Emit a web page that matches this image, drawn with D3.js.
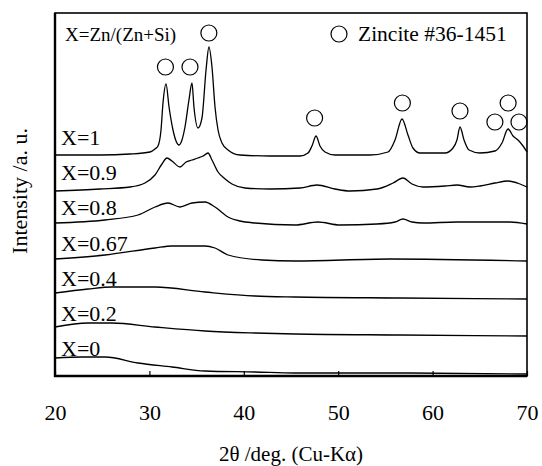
<!DOCTYPE html>
<html>
<head>
<meta charset="utf-8">
<script src="https://cdn.jsdelivr.net/npm/d3@7"></script>
<style>
  body { margin: 0; background: #fff; }
  svg text { font-family: "Liberation Serif", "Tinos", "Times New Roman", "DejaVu Serif", serif; fill: #000; }
</style>
</head>
<body>
<div id="chart"></div>
<script>
//////////////////////////////////////////////////////////////////////////////
// Data (2theta in deg, intensity in a.u. incl. offset)

var theta_1 = [20.00, 24.77, 27.94, 30.06, 30.59, 30.91, 31.23, 31.44, 31.76, 32.08, 32.50, 32.82, 33.14, 33.45, 33.77, 34.19, 34.51, 34.72, 35.15, 35.57, 36.00, 36.31, 36.63, 36.95, 37.27, 37.69, 38.33, 39.60, 42.78, 45.95, 46.80, 47.22, 47.65, 48.07, 48.60, 49.66, 53.37, 55.28, 56.02, 56.76, 57.39, 57.92, 58.67, 61.31, 62.16, 62.58, 62.90, 63.33, 63.86, 65.02, 66.61, 67.35, 67.99, 68.52, 69.05, 69.58, 70.00];
var int_1   = [221, 221, 222, 224, 227, 230, 246, 273, 292, 269, 246, 235, 231, 236, 249, 276, 293, 269, 248, 258, 306, 329, 309, 269, 246, 233, 226, 221, 220, 220, 223, 230, 240, 230, 224, 221, 221, 224, 236, 257, 241, 228, 223, 223, 228, 236, 249, 236, 226, 223, 225, 233, 247, 240, 236, 230, 224];

var theta_09 = [20.00, 24.77, 27.94, 29.53, 30.59, 31.33, 31.86, 32.39, 33.24, 33.88, 34.51, 35.15, 35.68, 36.21, 36.63, 37.27, 37.90, 38.75, 40.13, 42.78, 45.95, 47.75, 49.66, 51.25, 54.11, 55.81, 56.86, 57.82, 58.98, 61.31, 62.58, 63.96, 65.02, 66.61, 67.99, 69.26, 70.00];
var int_09   = [185, 187, 189, 193, 201, 212, 218, 215, 209, 214, 216, 218, 220, 223, 216, 204, 198, 192, 188, 187, 188, 191, 187, 185, 187, 193, 198, 192, 189, 190, 191, 189, 190, 193, 195, 192, 189];

var theta_08 = [20.00, 25.30, 28.79, 30.59, 31.97, 33.24, 34.51, 35.89, 36.95, 38.33, 39.60, 41.19, 45.42, 47.86, 50.19, 54.11, 56.02, 56.86, 57.82, 58.98, 62.58, 66.08, 68.20, 70.00];
var int_08   = [153, 156, 161, 169, 173, 169, 173, 174, 169, 159, 155, 153, 151, 154, 151, 152, 154, 157, 154, 153, 154, 154, 154, 152];

var theta_067 = [20.00, 25.30, 30.59, 32.39, 35.89, 36.95, 38.33, 41.93, 45.42, 55.49, 70.00];
var int_067   = [117, 121, 128, 130, 130, 128, 121, 116, 115, 117, 115];

var theta_04 = [20.00, 23.50, 26.04, 30.59, 35.89, 41.19, 45.42, 56.55, 70.00];
var int_04   = [83, 87, 89, 89, 84, 80, 79, 78, 77];

var theta_02 = [20.00, 23.50, 26.04, 30.59, 35.89, 41.19, 45.42, 56.55, 70.00];
var int_02   = [49, 53, 53, 49, 45, 43, 42, 41, 40];

var theta_0 = [20.00, 22.86, 25.30, 28.79, 32.39, 35.89, 41.19, 45.42, 56.55, 70.00];
var int_0   = [18, 19, 19, 13, 9, 5, 4, 3, 3, 2];

var seriesLabels = ["X=1", "X=0.9", "X=0.8", "X=0.67", "X=0.4", "X=0.2", "X=0"];

// zincite reflections marked with circles
var zinciteTheta = [31.7, 34.3, 36.3, 47.5, 56.8, 62.9, 66.6, 68.0, 69.15];
var zinciteLevel = [309, 309, 343, 258, 273, 265, 254, 273, 254];

var xTicks = [20, 30, 40, 50, 60, 70];

//////////////////////////////////////////////////////////////////////////////
// Layout and scales

var width = 542, height = 466;
var margin = {top: 13, right: 15, bottom: 90, left: 55};

var xScale = d3.scaleLinear().domain([20, 70]).range([margin.left, width - margin.right]);
var yScale = d3.scaleLinear().domain([0, 363]).range([height - margin.bottom, margin.top]);
var labelScale = d3.scalePoint().domain(seriesLabels).range([145, 356]);

var series = [
    {theta: theta_1,   I: int_1},
    {theta: theta_09,  I: int_09},
    {theta: theta_08,  I: int_08},
    {theta: theta_067, I: int_067},
    {theta: theta_04,  I: int_04},
    {theta: theta_02,  I: int_02},
    {theta: theta_0,   I: int_0}
].map(function(s, i) {
    return {label: seriesLabels[i], points: s.theta.map(function(t, j) { return [t, s.I[j]]; })};
});

var svg = d3.select("#chart")
    .append("svg")
    .attr("width", width)
    .attr("height", height);

var line = d3.line()
    .x(function(d) { return xScale(d[0]); })
    .y(function(d) { return yScale(d[1]); })
    .curve(d3.curveMonotoneX);

//////////////////////////////////////////////////////////////////////////////
// Patterns

svg.append("g")
    .selectAll("path")
    .data(series)
    .enter()
    .append("path")
    .attr("d", function(d) { return line(d.points); })
    .attr("fill", "none")
    .attr("stroke", "#000")
    .attr("stroke-width", 1.3);

svg.append("g")
    .selectAll("text")
    .data(seriesLabels)
    .enter()
    .append("text")
    .attr("x", margin.left + 6)
    .attr("y", function(d) { return labelScale(d); })
    .attr("font-size", 22)
    .text(function(d) { return d; });

svg.append("g")
    .selectAll("circle")
    .data(zinciteTheta)
    .enter()
    .append("circle")
    .attr("cx", function(d) { return xScale(d); })
    .attr("cy", function(d, i) { return yScale(zinciteLevel[i]); })
    .attr("r", 8)
    .attr("fill", "none")
    .attr("stroke", "#000")
    .attr("stroke-width", 1.2);

//////////////////////////////////////////////////////////////////////////////
// Frame, ticks, labels

svg.append("rect")
    .attr("x", margin.left)
    .attr("y", margin.top)
    .attr("width", width - margin.left - margin.right)
    .attr("height", height - margin.top - margin.bottom)
    .attr("fill", "none")
    .attr("stroke", "#000")
    .attr("stroke-width", 1.6);

// left and bottom edges are drawn heavier in the original
svg.append("path")
    .attr("d", "M" + margin.left + "," + margin.top + "V" + (height - margin.bottom) + "H" + (width - margin.right))
    .attr("fill", "none")
    .attr("stroke", "#000")
    .attr("stroke-width", 2.4);

var xAxis = svg.append("g")
    .attr("transform", "translate(0," + (height - margin.bottom) + ")")
    .call(d3.axisBottom(xScale).tickValues(xTicks).tickSizeInner(-5).tickSizeOuter(0).tickPadding(28));
xAxis.attr("font-family", null).attr("font-size", null);
xAxis.select(".domain").remove();
xAxis.selectAll("line").attr("stroke", "#000").attr("stroke-width", 1.2);
xAxis.selectAll("text").attr("font-size", 22);

svg.append("text")
    .attr("x", (margin.left + width - margin.right) / 2)
    .attr("y", 461)
    .attr("text-anchor", "middle")
    .attr("font-size", 21)
    .text("2θ /deg. (Cu-Kα)");

svg.append("text")
    .attr("transform", "translate(27,191) rotate(-90)")
    .attr("text-anchor", "middle")
    .attr("font-size", 22)
    .text("Intensity /a. u.");

// legend texts
svg.append("text")
    .attr("x", 65)
    .attr("y", 41)
    .attr("font-size", 19)
    .text("X=Zn/(Zn+Si)");

svg.append("circle")
    .attr("cx", 339)
    .attr("cy", 34)
    .attr("r", 8)
    .attr("fill", "none")
    .attr("stroke", "#000")
    .attr("stroke-width", 1.2);

svg.append("text")
    .attr("x", 358)
    .attr("y", 41)
    .attr("font-size", 21.5)
    .text("Zincite #36-1451");
</script>
</body>
</html>
